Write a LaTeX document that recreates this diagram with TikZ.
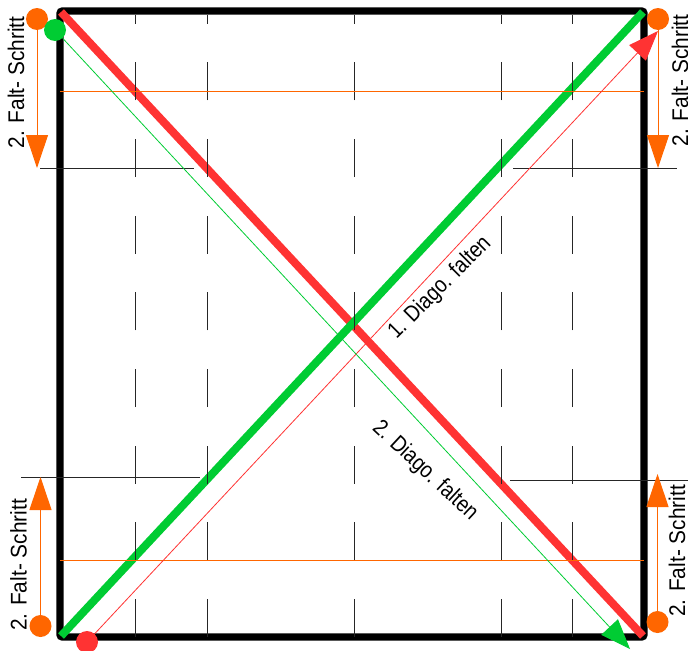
\documentclass[tikz,border=0pt]{standalone}
\usepackage{fontspec}
\setmainfont{Liberation Sans}
\usetikzlibrary{arrows.meta}
\definecolor{faltorange}{HTML}{FF6600}
\definecolor{faltrot}{HTML}{FF3333}
\definecolor{faltgruen}{HTML}{00CC33}
\tikzset{
  punkt/.style={circle, fill=#1, inner sep=0pt, minimum size=16.5pt},
  schrittpfeil/.style={-{Triangle[length=24.75pt, width=16.5pt]}, faltorange, line width=0.75pt},
  diagopfeil/.style={-{Triangle[length=22.5pt, width=17pt]}, #1, line width=0.6pt},
  raster/.style={black!85, line width=0.75pt, dash pattern=on 28.5pt off 29pt},
  hilfslinie/.style={black!85, line width=0.75pt},
  faltlinie/.style={faltorange, line width=0.75pt},
  beschriftung/.style={font=\fontsize{17pt}{20pt}\selectfont, inner sep=0pt}
}
\begin{document}
\begin{tikzpicture}[x=0.75pt, y=-0.75pt]
    \useasboundingbox (0,0) rectangle (688,650);

    % Papier
    \draw[line width=5.6pt, rounded corners=2pt] (60,11) rectangle (644,637);

    % Diagonalen
    \draw[faltrot, line width=6pt] (61,12) -- (643,636);
    \draw[faltgruen, line width=6pt] (61,636) -- (643,12);

    % Raster
    \draw[raster] (135,637) -- (135,15);
    \draw[raster] (207,637) -- (207,15);
    \draw[raster] (354,637) -- (354,15);
    \draw[raster] (501,637) -- (501,15);
    \draw[raster] (572,637) -- (572,15);

    % Hilfslinien
    \draw[hilfslinie] (40,168) -- (194,168);
    \draw[hilfslinie] (513,168) -- (677,168);
    \draw[hilfslinie] (21,477) -- (200,477);
    \draw[hilfslinie] (510,480.5) -- (688,480.5);
    \draw[faltlinie] (60,91.5) -- (644,91.5);
    \draw[faltlinie] (60,560.5) -- (644,560.5);

    % Punkte
    \node[punkt=faltorange] (obenlinks) at (37,19) {};
    \node[punkt=faltorange] (obenrechts) at (658,19) {};
    \node[punkt=faltorange] (untenlinks) at (40.5,626) {};
    \node[punkt=faltorange] (untenrechts) at (657.5,622) {};
    \node[punkt=faltrot] (startrot) at (87,642) {};
    \node[punkt=faltgruen] (startgruen) at (55,30) {};

    % Pfeilspitzen
    \coordinate (zielobenlinks) at (37,168);
    \coordinate (zielobenrechts) at (658,168);
    \coordinate (zieluntenlinks) at (40.5,477);
    \coordinate (zieluntenrechts) at (657.5,474);
    \coordinate (zielrot) at (658,31);
    \coordinate (zielgruen) at (630,649);

    % Falt-Schritte
    \draw[schrittpfeil] (obenlinks) -- (zielobenlinks);
    \draw[schrittpfeil] (obenrechts) -- (zielobenrechts);
    \draw[schrittpfeil] (untenlinks) -- (zieluntenlinks);
    \draw[schrittpfeil] (untenrechts) -- (zieluntenrechts);

    % Pfeile der Diagonalen
    \draw[diagopfeil=faltrot] (startrot) -- (zielrot);
    \draw[diagopfeil=faltgruen] (startgruen) -- (zielgruen);

    % Texte
    \node[beschriftung, rotate=90, xscale=0.92] (textobenlinks) at (16,82.5) {2. Falt- Schritt};
    \node[beschriftung, rotate=90, xscale=0.92] (textobenrechts) at (680,80.5) {2. Falt- Schritt};
    \node[beschriftung, rotate=90, xscale=0.92] (textuntenlinks) at (18.5,565) {2. Falt- Schritt};
    \node[beschriftung, rotate=90, xscale=0.92] (textuntenrechts) at (677,551) {2. Falt- Schritt};
    \node[beschriftung, rotate=45, xscale=0.86] (textdiagoeins) at (440,288) {1. Diago. falten};
    \node[beschriftung, rotate=-43, xscale=0.86] (textdiagozwei) at (425,471) {2. Diago. falten};

\end{tikzpicture}
\end{document}
